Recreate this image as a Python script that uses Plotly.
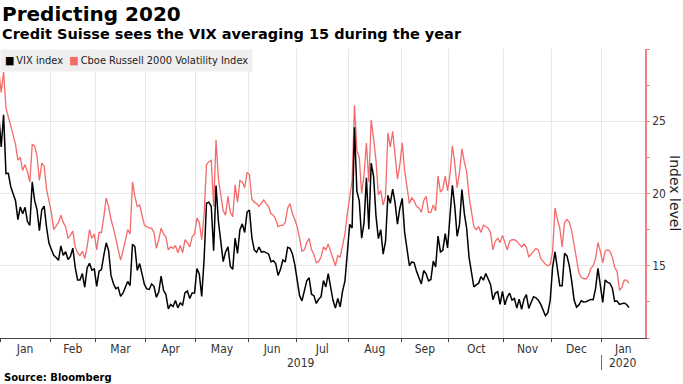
import pandas as pd
import plotly.graph_objects as go

# ---------------- data ----------------
START = "2018-12-31"
END = "2020-01-17"
HOLIDAYS = ["2019-01-01", "2019-01-21", "2019-02-18", "2019-04-19", "2019-05-27",
            "2019-07-04", "2019-09-02", "2019-11-28", "2019-12-25", "2020-01-01"]

vix = [
    25.42, 23.22, 25.45, 21.38, 21.40, 20.47, 19.98, 19.50, 18.19, 19.07,
    18.60, 19.04, 18.06, 17.80, 20.80, 19.52, 18.89, 17.42, 18.87, 19.13,
    17.66, 16.57, 16.14, 15.73, 15.57, 15.38, 16.37, 15.72, 15.97, 15.43,
    15.65, 16.22, 14.91, 14.02, 14.02, 14.46, 13.51, 14.85, 15.17, 14.70,
    14.78, 13.57, 14.63, 14.74, 15.74, 16.59, 16.05, 14.33, 13.77, 13.41,
    13.50, 12.88, 13.10, 13.56, 13.91, 13.63, 16.48, 16.33, 14.68, 15.15,
    14.43, 13.71, 13.40, 13.36, 13.74, 13.58, 12.82, 13.18, 14.28, 13.30,
    13.02, 12.01, 12.32, 12.18, 12.60, 12.09, 12.42, 12.28, 13.14, 13.25,
    12.73, 13.11, 13.12, 14.80, 14.42, 12.87, 15.44, 19.32, 19.40, 19.10,
    16.04, 20.55, 18.06, 16.44, 15.29, 15.96, 16.31, 14.95, 14.75, 16.92,
    15.85, 17.50, 17.90, 17.30, 18.71, 18.86, 16.97, 16.09, 15.93, 16.30,
    15.94, 15.99, 15.91, 15.82, 15.28, 15.35, 15.15, 14.33, 14.75, 15.40,
    15.26, 16.28, 16.21, 15.82, 15.08, 14.06, 12.93, 12.57, 13.28, 13.96,
    14.17, 13.03, 12.93, 12.39, 12.68, 12.86, 13.97, 13.53, 14.45, 13.53,
    12.61, 12.07, 12.74, 12.16, 13.24, 13.94, 16.12, 17.87, 17.61, 24.59,
    20.17, 19.49, 16.91, 17.97, 21.09, 17.52, 22.10, 21.18, 18.47, 16.88,
    17.50, 15.80, 16.68, 19.87, 19.32, 20.31, 19.35, 17.88, 18.98, 19.66,
    17.33, 16.27, 15.00, 15.27, 15.20, 14.61, 14.22, 13.74, 14.67, 14.44,
    13.95, 14.05, 15.32, 14.91, 17.05, 15.96, 16.07, 17.22, 16.24, 18.56,
    20.56, 19.12, 17.04, 17.86, 20.28, 18.64, 17.57, 15.58, 14.57, 13.54,
    13.68, 13.79, 14.25, 14.00, 14.46, 14.01, 13.71, 12.65, 13.11, 13.20,
    12.33, 13.22, 12.30, 12.83, 13.10, 12.62, 12.73, 12.07, 12.69, 11.99,
    12.68, 13.00, 12.05, 12.46, 12.86, 12.78, 12.61, 12.34, 11.87, 11.54,
    11.75, 12.62, 14.91, 15.96, 14.80, 13.62, 13.62, 15.86, 15.68, 14.99,
    13.94, 12.63, 12.14, 12.29, 12.58, 12.50, 12.51, 12.61, 12.67, 12.65,
    13.43, 14.82, 13.78, 12.47, 14.02, 13.85, 13.79, 13.45, 12.54, 12.56,
    12.32, 12.39, 12.42, 12.32, 12.10,
]

rvx = [
    28.5, 27.0, 28.4, 25.9, 25.3, 24.6, 24.1, 23.4, 22.3, 22.5,
    21.6, 22.0, 21.5, 20.8, 23.4, 23.3, 22.6, 20.9, 22.1, 21.9,
    20.3, 19.4, 18.7, 17.5, 17.8, 18.0, 18.5, 18.0, 17.7, 16.9,
    17.1, 17.4, 16.3, 15.9, 15.7, 16.0, 15.5, 16.3, 17.5, 16.9,
    17.2, 16.1, 17.3, 17.3, 18.4, 19.7, 19.1, 18.2, 17.6, 16.8,
    16.2, 15.4, 16.0, 16.7, 17.5, 17.2, 20.8, 19.8, 19.1, 19.2,
    18.4, 17.8, 17.7, 17.6, 17.6, 17.3, 16.2, 16.8, 17.6, 17.2,
    17.0, 16.1, 16.3, 16.2, 16.4, 15.9, 16.4, 15.9, 16.8, 16.6,
    16.3, 17.0, 17.2, 18.3, 18.0, 16.8, 18.6, 22.0, 22.2, 22.3,
    19.1, 23.7, 21.0, 19.8, 18.8, 18.5, 19.8, 18.7, 18.4, 20.6,
    19.4, 20.9, 20.8, 20.4, 21.45, 21.3, 19.6, 19.4, 19.3, 19.1,
    19.3, 19.55, 19.3, 19.1, 18.6, 18.5, 18.2, 17.7, 17.8, 17.8,
    18.0, 19.0, 19.3, 18.6, 18.2, 17.7, 16.9, 16.0, 16.1, 16.6,
    16.9, 16.1, 15.8, 15.2, 15.3, 15.6, 16.3, 16.1, 16.5, 16.0,
    15.4, 15.0, 15.7, 15.6, 16.4, 17.2, 18.6, 19.8, 20.9, 26.1,
    23.0, 22.5, 20.0, 21.3, 23.5, 20.8, 25.1, 23.8, 22.3, 19.9,
    20.2, 19.2, 19.8, 24.2, 23.2, 24.3, 22.6, 21.0, 22.0, 23.5,
    21.6, 20.3, 19.3, 19.7, 19.5, 19.1, 19.0, 18.7, 19.5, 19.8,
    18.7, 18.7, 19.2, 18.8, 21.2, 20.1, 20.3, 21.2, 20.2, 21.3,
    23.3, 22.1, 20.4, 21.5, 23.1, 22.2, 21.5, 19.8, 18.6, 17.7,
    17.5, 17.7, 17.3, 17.8, 17.7, 17.6, 17.3, 16.1, 16.7, 16.9,
    16.6, 17.1, 16.6, 16.1, 16.7, 16.8, 16.8, 16.7, 16.5, 16.3,
    16.5, 16.3, 15.6, 15.8, 16.0, 16.2, 16.1, 15.5, 15.3, 15.1,
    15.0, 15.1, 16.0, 19.0, 18.2, 17.6, 16.3, 18.0, 18.2, 18.0,
    17.4, 16.3, 15.5, 14.5, 14.2, 14.1, 14.1, 14.3, 14.8, 15.0,
    15.5, 16.6, 16.0, 15.2, 16.0, 16.1, 16.0, 15.6, 14.9, 14.6,
    13.3, 13.5, 14.0, 14.0, 13.8,
]

y_tick_vals = [10, 15, 20, 25, 30]
y_tick_text = ["", "15", "20", "25", ""]
y_minor_vals = [12.5, 17.5, 22.5, 27.5]

# ---------------- helpers ----------------
dates = pd.bdate_range(START, END, freq="C", holidays=HOLIDAYS)
pos = list(range(len(dates)))
X_MIN, X_MAX = 0.5, 270.7

bounds = [i - 0.5 for i in range(1, len(dates)) if dates[i].month != dates[i - 1].month]
edges = bounds + [X_MAX]
mids, names = [], []
for k in range(len(bounds)):
    a, b = edges[k], edges[k + 1]
    mids.append((a + b) / 2)
    names.append(dates[int(a + 0.5)].strftime("%b"))

yr_split = [b for b in bounds if dates[int(b + 0.5)].month == 1]
yr_labels = [((yr_split[0] + yr_split[1]) / 2, "2019"), ((yr_split[1] + X_MAX) / 2, "2020")]

RED = "#f46a6a"
AXRED = "#f28080"
COND = "DejaVu Sans Condensed, Liberation Sans Narrow, DejaVu Sans, sans-serif"
BOLD = "DejaVu Sans, Verdana, sans-serif"

fig = go.Figure()
fig.add_trace(go.Scatter(x=pos, y=rvx, mode="lines", name="Cboe Russell 2000 Volatility Index",
                         line=dict(color=RED, width=1.3), showlegend=False))
fig.add_trace(go.Scatter(x=pos, y=vix, mode="lines", name="VIX index",
                         line=dict(color="#000000", width=1.5), showlegend=False))

PLOT_TOP, PLOT_BOT = 49, 338
H = PLOT_BOT - PLOT_TOP
W = 645


def py(pix):
    return (PLOT_BOT - pix) / H


annotations = [
    dict(text="<b>Predicting 2020</b>", x=0.0, y=py(14), xref="paper", yref="paper",
         xanchor="left", yanchor="middle", showarrow=False,
         font=dict(family=BOLD, size=20, color="#000")),
    dict(text="<b>Credit Suisse sees the VIX averaging 15 during the year</b>", x=0.0, y=py(34),
         xref="paper", yref="paper", xanchor="left", yanchor="middle", showarrow=False,
         font=dict(family=BOLD, size=14.5, color="#000")),
    dict(text="<b>Source: Bloomberg</b>", x=2 / W, y=py(377), xref="paper", yref="paper",
         xanchor="left", yanchor="middle", showarrow=False,
         font=dict(family=BOLD, size=10, color="#000")),
    dict(text="Index level", x=(675) / W, y=py(193), xref="paper", yref="paper",
         xanchor="center", yanchor="middle", textangle=90, showarrow=False,
         font=dict(family="DejaVu Sans, sans-serif", size=14, color="#222")),
    dict(text="<span style='color:#000000'>■</span>\u2009VIX index  "
              "<span style='color:" + RED + "'>■</span>\u2009Cboe Russell 2000 Volatility Index",
         x=0, y=1, xref="paper", yref="paper", xanchor="left", yanchor="top",
         showarrow=False, bgcolor="#efefef", borderpad=4,
         font=dict(family=COND, size=11, color="#222")),
]
for xv, t in yr_labels:
    annotations.append(dict(text=t, x=xv, y=py(363), xref="x", yref="paper",
                            xanchor="center", yanchor="middle", showarrow=False,
                            font=dict(family=COND, size=12, color="#333")))

fig.add_shape(type="line", xref="x", yref="paper", x0=yr_split[1], x1=yr_split[1],
              y0=py(355), y1=py(370), line=dict(color="#666", width=1))

fig.update_layout(
    width=683, height=384,
    margin=dict(l=0, r=683 - W, t=PLOT_TOP, b=384 - PLOT_BOT),
    plot_bgcolor="white", paper_bgcolor="white",
    showlegend=False,
    annotations=annotations,
    xaxis=dict(
        range=[X_MIN, X_MAX], tickmode="array", tickvals=mids, ticktext=names,
        ticks="", showgrid=False, zeroline=False,
        showline=True, linecolor="#444", linewidth=1,
        tickfont=dict(family=COND, size=12, color="#333"),
        minor=dict(tickmode="array", tickvals=bounds, ticks="outside", ticklen=3,
                   tickcolor="#444", showgrid=True, gridcolor="#e8e8e8", gridwidth=1),
    ),
    yaxis=dict(
        side="right", range=[10, 30], tickmode="array", tickvals=y_tick_vals,
        ticktext=y_tick_text, showgrid=True, gridcolor="#e8e8e8", zeroline=False,
        ticks="outside", ticklen=3, tickcolor=AXRED, showline=True, linecolor=AXRED,
        linewidth=1.5, tickfont=dict(family=COND, size=12, color="#333"),
        minor=dict(tickmode="array", tickvals=y_minor_vals, ticks="outside", ticklen=3,
                   tickcolor=AXRED, showgrid=False),
    ),
)

fig.write_html("out.html", config={"displayModeBar": False},
               post_script="document.body.style.margin='0';document.body.style.padding='0';")
